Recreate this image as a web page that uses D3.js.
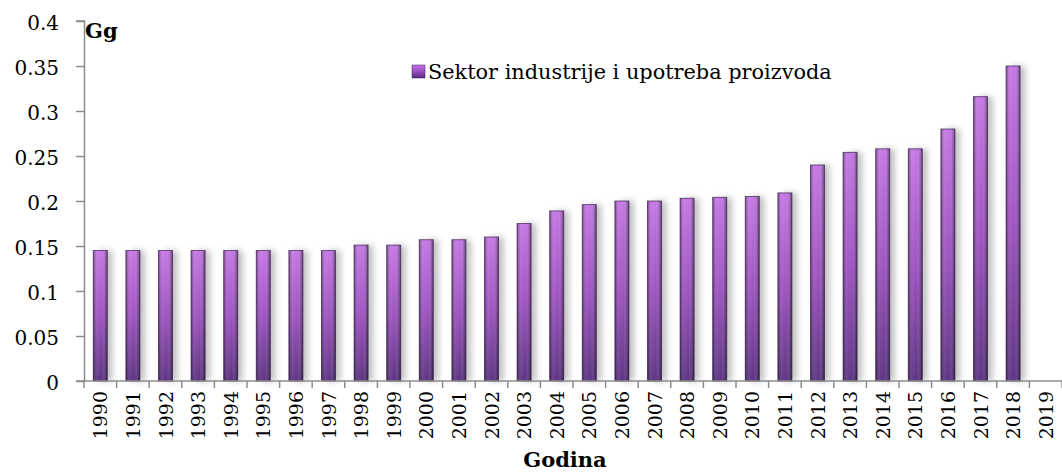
<!DOCTYPE html>
<html>
<head>
<meta charset="utf-8">
<script src="https://cdn.jsdelivr.net/npm/d3@7"></script>
<style>
  body { margin: 0; background: #fff; }
</style>
</head>
<body>
<div id="chart"></div>
<script>
// data
var years = ["1990","1991","1992","1993","1994","1995","1996","1997","1998","1999",
             "2000","2001","2002","2003","2004","2005","2006","2007","2008","2009",
             "2010","2011","2012","2013","2014","2015","2016","2017","2018","2019"];
var values = [0.145,0.145,0.145,0.145,0.145,0.145,0.145,0.145,0.151,0.151,
              0.157,0.157,0.160,0.175,0.189,0.196,0.200,0.200,0.203,0.204,
              0.205,0.209,0.240,0.254,0.258,0.258,0.280,0.316,0.350,null];
var yTicks = [0,0.05,0.1,0.15,0.2,0.25,0.3,0.35,0.4];
var seriesName = "Sektor industrije i upotreba proizvoda";

window.onload = () => {
  var W = 1062, H = 473;
  var serif = "'DejaVu Serif', 'Liberation Serif', serif";
  var margin = {top: 21, right: 0, bottom: 92, left: 84},
      width = W - margin.left - margin.right,
      height = H - margin.top - margin.bottom;

  var svg = d3.select("#chart").append("svg")
      .attr("width", W).attr("height", H)
      .style("font-family", serif);

  var defs = svg.append("defs");
  var vg = defs.append("linearGradient").attr("id", "vg")
      .attr("x1", 0).attr("y1", 0).attr("x2", 0).attr("y2", 1);
  vg.append("stop").attr("offset", "0%").attr("stop-color", "#c271e4");
  vg.append("stop").attr("offset", "50%").attr("stop-color", "#9a4cbf");
  vg.append("stop").attr("offset", "100%").attr("stop-color", "#552a7c");
  var hg = defs.append("linearGradient").attr("id", "hg")
      .attr("x1", 0).attr("y1", 0).attr("x2", 1).attr("y2", 0);
  hg.append("stop").attr("offset", "0%").attr("stop-color", "#000").attr("stop-opacity", 0.4);
  hg.append("stop").attr("offset", "30%").attr("stop-color", "#fff").attr("stop-opacity", 0.1);
  hg.append("stop").attr("offset", "60%").attr("stop-color", "#fff").attr("stop-opacity", 0.05);
  hg.append("stop").attr("offset", "100%").attr("stop-color", "#000").attr("stop-opacity", 0.5);
  var sh = defs.append("filter").attr("id", "sh")
      .attr("x", "-50%").attr("y", "-10%").attr("width", "250%").attr("height", "120%");
  sh.append("feDropShadow").attr("dx", 5).attr("dy", 0).attr("stdDeviation", 3)
      .attr("flood-color", "#000").attr("flood-opacity", 0.25);

  var g = svg.append("g").attr("transform", `translate(${margin.left},${margin.top})`);

  var x = d3.scaleBand().domain(years).range([0, width]).paddingInner(0.57).paddingOuter(0.285);
  var xb = d3.scaleBand().domain(years).range([0, width]);
  var y = d3.scaleLinear().domain([0, 0.4]).range([height, 0]);

  // bars
  var data = years.map((d, i) => ({year: d, v: values[i]})).filter(d => d.v != null);
  var bars = g.append("g").selectAll("g").data(data).join("g");
  bars.append("rect")
      .attr("x", d => x(d.year)).attr("width", x.bandwidth())
      .attr("y", d => y(d.v)).attr("height", d => y(0) - y(d.v))
      .attr("fill", "url(#vg)").attr("filter", "url(#sh)");
  bars.append("rect")
      .attr("x", d => x(d.year)).attr("width", x.bandwidth())
      .attr("y", d => y(d.v)).attr("height", d => y(0) - y(d.v))
      .attr("fill", "url(#hg)")
      .attr("stroke", "#3d2352").attr("stroke-opacity", 0.7).attr("stroke-width", 1);

  // y axis
  var yAxis = g.append("g")
      .call(d3.axisLeft(y).tickValues(yTicks).tickSize(8).tickPadding(17)
        .tickFormat(d => d === 0 ? "0" : String(+d.toFixed(2))));
  yAxis.attr("font-family", null);
  yAxis.selectAll("line, path").attr("stroke", "#8c8c8c").attr("stroke-width", 1.5);
  yAxis.select(".domain").attr("d", `M-8,${height}H0.5V0H-8`);
  yAxis.selectAll("text").attr("font-size", 20).attr("fill", "#000").attr("dy", "0.42em");

  // x axis with ticks at category boundaries
  var xAxis = g.append("g").attr("transform", `translate(0,${height})`);
  xAxis.append("line").attr("x1", 0).attr("x2", width)
      .attr("stroke", "#8c8c8c").attr("stroke-width", 1.5);
  xAxis.selectAll(".bt").data(years).join("line").attr("class", "bt")
      .attr("x1", d => xb(d) + xb.bandwidth()).attr("x2", d => xb(d) + xb.bandwidth())
      .attr("y1", 0).attr("y2", 7)
      .attr("stroke", "#8c8c8c").attr("stroke-width", 1.5);
  xAxis.append("line").attr("x1", 0).attr("x2", 0).attr("y1", 0).attr("y2", 7)
      .attr("stroke", "#8c8c8c").attr("stroke-width", 1.5);
  xAxis.selectAll(".lbl").data(years).join("text").attr("class", "lbl")
      .attr("transform", d => `translate(${xb(d) + xb.bandwidth() / 2 + 7},10) rotate(-90)`)
      .attr("text-anchor", "end")
      .attr("font-size", 19).attr("fill", "#000")
      .text(d => d);

  // titles
  svg.append("text").attr("x", 85).attr("y", 38)
      .attr("font-size", 21).attr("font-weight", "bold").text("Gg");
  svg.append("text").attr("x", 565).attr("y", 467)
      .attr("text-anchor", "middle").attr("font-size", 21).attr("font-weight", "bold")
      .text("Godina");

  // legend
  var lg = svg.append("g").attr("transform", "translate(412,65)");
  lg.append("rect").attr("width", 13).attr("height", 13).attr("fill", "url(#vg)")
      .attr("stroke", "#3d2352").attr("stroke-width", 0.5);
  var lt = lg.append("text").attr("x", 16).attr("y", 14).attr("font-size", 22).text(seriesName);
  var len = lt.node().getComputedTextLength();
  lt.attr("font-size", 22 * 404 / len);
};
</script>
</body>
</html>
